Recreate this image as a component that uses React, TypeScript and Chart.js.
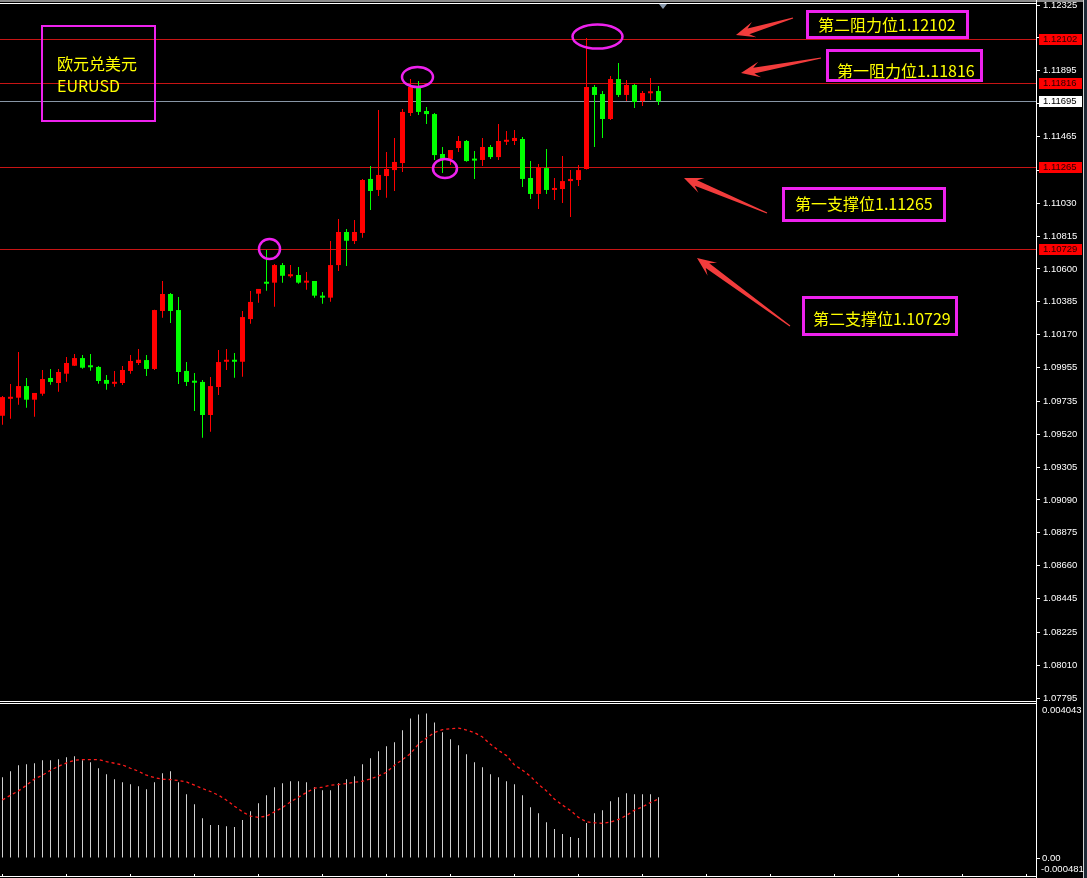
import React, { useEffect, useRef } from "react";
import { Chart, registerables } from "chart.js";

Chart.register(...registerables);

// ---------- data ----------
const candleOpen = [
  1.0964, 1.09751, 1.09758, 1.09834, 1.09745, 1.09784, 1.09887, 1.09854, 1.09915, 1.09967,
  1.10017, 1.09962, 1.09959, 1.09874, 1.09849, 1.09854, 1.09933, 1.09985, 1.10004, 1.09946,
  1.10325, 1.10436, 1.10331, 1.09933, 1.09867, 1.09861, 1.09645, 1.09828, 1.09993, 1.10004,
  1.09993, 1.10272, 1.10438, 1.10514, 1.1051, 1.10625, 1.10552, 1.1056, 1.1051, 1.10521,
  1.10423, 1.10412, 1.10625, 1.10841, 1.10782, 1.10835, 1.11188, 1.11116, 1.11207, 1.11246,
  1.11292, 1.11619, 1.11789, 1.11632, 1.11612, 1.11351, 1.11318, 1.1139, 1.11436, 1.11315,
  1.11312, 1.11397, 1.11331, 1.11431, 1.11436, 1.11449, 1.11194, 1.1109, 1.11259, 1.11116,
  1.11122, 1.11174, 1.11181, 1.11253, 1.11789, 1.11743, 1.1158, 1.11841, 1.11737, 1.11802,
  1.11697, 1.11748, 1.11763,
];
const candleHigh = [
  1.09769, 1.09847, 1.10057, 1.09887, 1.09789, 1.09939, 1.09946, 1.09946, 1.10024, 1.10044,
  1.10037, 1.10044, 1.09965, 1.09906, 1.09933, 1.09965, 1.10037, 1.10076, 1.10037, 1.10333,
  1.10521, 1.10442, 1.10416, 1.09991, 1.09919, 1.09874, 1.09893, 1.1007, 1.10076, 1.1005,
  1.10325, 1.10455, 1.10469, 1.10723, 1.10632, 1.10638, 1.10625, 1.10612, 1.1058, 1.10521,
  1.10449, 1.10782, 1.10926, 1.10861, 1.1092, 1.11188, 1.11273, 1.11639, 1.11364, 1.11456,
  1.11645, 1.11841, 1.11828, 1.11658, 1.11619, 1.11397, 1.11377, 1.11469, 1.11443, 1.11371,
  1.11456, 1.1141, 1.11547, 1.11501, 1.11508, 1.11462, 1.11305, 1.11286, 1.11384, 1.11194,
  1.11338, 1.11246, 1.11279, 1.12109, 1.11802, 1.11763, 1.11861, 1.11946, 1.11835, 1.11809,
  1.11763, 1.11848, 1.11796,
];
const candleLow = [
  1.09581, 1.09621, 1.09712, 1.09693, 1.09634, 1.09771, 1.09843, 1.09797, 1.09863, 1.09965,
  1.09948, 1.09934, 1.09849, 1.0981, 1.0983, 1.09841, 1.09915, 1.09972, 1.099, 1.09939,
  1.10281, 1.10246, 1.09847, 1.09834, 1.09671, 1.09496, 1.09536, 1.09776, 1.09939, 1.09889,
  1.09895, 1.10242, 1.10379, 1.10457, 1.10353, 1.1051, 1.10542, 1.10503, 1.10464, 1.10412,
  1.10372, 1.10386, 1.10586, 1.10619, 1.10763, 1.10804, 1.10985, 1.11076, 1.11065, 1.11109,
  1.11233, 1.11599, 1.11606, 1.11547, 1.11312, 1.11227, 1.11279, 1.11364, 1.113, 1.11188,
  1.11273, 1.11318, 1.11312, 1.1141, 1.1141, 1.11135, 1.11057, 1.10992, 1.1109, 1.1105,
  1.11031, 1.10939, 1.11142, 1.1125, 1.11397, 1.11456, 1.11573, 1.11724, 1.11697, 1.11652,
  1.11665, 1.11704, 1.11671,
];
const candleClose = [
  1.09762, 1.09762, 1.09834, 1.09745, 1.09789, 1.0988, 1.09861, 1.09926, 1.09985, 1.10017,
  1.09954, 1.09957, 1.09867, 1.09849, 1.09861, 1.09939, 1.09998, 1.10006, 1.09946, 1.10331,
  1.10436, 1.10325, 1.09926, 1.09861, 1.09856, 1.09645, 1.09834, 1.09991, 1.10004, 1.09993,
  1.10285, 1.10384, 1.10469, 1.10503, 1.10625, 1.10555, 1.1056, 1.1051, 1.10521, 1.10425,
  1.10412, 1.10625, 1.10841, 1.10784, 1.10841, 1.11181, 1.11109, 1.11214, 1.11253, 1.11299,
  1.11626, 1.11789, 1.11626, 1.11612, 1.11344, 1.11318, 1.11377, 1.11436, 1.11305, 1.11308,
  1.11397, 1.11331, 1.11436, 1.11443, 1.11456, 1.11188, 1.1109, 1.11266, 1.11116, 1.11129,
  1.11174, 1.11188, 1.11246, 1.11789, 1.11737, 1.1158, 1.11841, 1.11737, 1.11802, 1.11691,
  1.1175, 1.11756, 1.11695,
];
const macdHistogram = [
  0.002163, 0.002323, 0.002483, 0.00251, 0.002537, 0.002617, 0.002617, 0.002643, 0.002697, 0.002723,
  0.002617, 0.002563, 0.002403, 0.002243, 0.002109, 0.002029, 0.001976, 0.001922, 0.001842, 0.002029,
  0.00227, 0.002323, 0.002029, 0.001709, 0.001442, 0.001068, 0.000881, 0.000881, 0.000854, 0.000828,
  0.001015, 0.001255, 0.001469, 0.001682, 0.001896, 0.002003, 0.002056, 0.002056, 0.002029, 0.001896,
  0.001816, 0.001816, 0.002003, 0.002109, 0.002189, 0.00251, 0.00267, 0.002857, 0.00299, 0.003097,
  0.003418, 0.003738, 0.003845, 0.003872, 0.003631, 0.003364, 0.003177, 0.003017, 0.002777, 0.002563,
  0.00243, 0.002243, 0.002163, 0.002056, 0.001976, 0.001682, 0.001362, 0.001202, 0.000961, 0.000774,
  0.000641, 0.000561, 0.000534, 0.000935, 0.001202, 0.001282, 0.001522, 0.001629, 0.001736, 0.001709,
  0.001709, 0.001709, 0.001629,
];
const macdSignal = [
  0.001557, 0.001682, 0.001797, 0.001949, 0.002117, 0.002216, 0.00235, 0.002456, 0.002545, 0.002617,
  0.002635, 0.002635, 0.002635, 0.002582, 0.002537, 0.002491, 0.002403, 0.002323, 0.002216, 0.002155,
  0.002109, 0.002101, 0.002075, 0.002037, 0.001949, 0.001861, 0.001781, 0.001682, 0.001549, 0.001388,
  0.001236, 0.001121, 0.001087, 0.001121, 0.001236, 0.001354, 0.001503, 0.001629, 0.001754, 0.001869,
  0.001896, 0.001949, 0.001968, 0.001994, 0.002029, 0.002056, 0.002117, 0.002197, 0.002296, 0.002483,
  0.002635, 0.002795, 0.003052, 0.003212, 0.003364, 0.003436, 0.003463, 0.003479, 0.003426, 0.003356,
  0.003239, 0.003044, 0.002884, 0.002742, 0.002491, 0.00235, 0.002189, 0.001968, 0.001797, 0.001575,
  0.001415, 0.001274, 0.001087, 0.000969, 0.000943, 0.000926, 0.000961, 0.001033, 0.00114, 0.001282,
  0.00137, 0.001487, 0.001583,
];
const priceTicks = [
  1.12325, 1.1211, 1.11895, 1.1168, 1.11465, 1.11245, 1.1103, 1.10815, 1.106, 1.10385, 1.1017,
  1.09955, 1.09735, 1.0952, 1.09305, 1.0909, 1.08875, 1.0866, 1.08445, 1.08225, 1.0801, 1.07795,
];
const levelNames = ["第二阻力位", "第一阻力位", "第一支撑位", "第二支撑位"];
const levelPrices = [1.12102, 1.11816, 1.11265, 1.10729];
const currentPrice = 1.11695;
const symbolLines = ["欧元兑美元", "EURUSD"];
const subAxisMax = 0.004043;
const subAxisMin = -0.000481;

// ---------- layout / styling ----------
const W = 1087;
const MAIN_H = 702;
const SUB_H = 176;
const AXIS_X = 1036;
const X_MIN = -0.3125;
const X_MAX = 129.1875;
const PRICE_MAX = 1.123381;
const PRICE_MIN = 1.077754;
const UP = "#ff0000";
const DOWN = "#00ff00";
const MAGENTA = "#ee22ee";
const AXIS_FAMILY = '"Liberation Sans", Arial, sans-serif';
const AXIS_SIZE = 9.5;
const AXIS_FONT = `${AXIS_SIZE}px ${AXIS_FAMILY}`;

const ellipseMarks = [
  { index: 74.375, price: 1.12119, rx: 25, ry: 12 },
  { index: 51.875, price: 1.11854, rx: 15.5, ry: 10 },
  { index: 55.31, price: 1.11256, rx: 12, ry: 9.5 },
  { index: 33.375, price: 1.1073, rx: 10.5, ry: 10 },
];
const arrowMarks = [
  { tail: [793, 18], tip: [736, 35] },
  { tail: [821, 58], tip: [741, 73] },
  { tail: [767, 213], tip: [684, 178] },
  { tail: [790, 326], tip: [697, 258] },
];
const calloutLayout = [
  { left: 806, top: 10, width: 163, height: 29, textLeft: 818, textCenter: 24 },
  { left: 826, top: 49, width: 157, height: 33, textLeft: 837, textCenter: 69.5 },
  { left: 782, top: 187, width: 164, height: 35, textLeft: 795, textCenter: 202.5 },
  { left: 802, top: 296, width: 156, height: 40, textLeft: 813, textCenter: 317.5 },
];

function drawArrow(ctx: any, tx: number, ty: number, px: number, py: number) {
  const dx = px - tx;
  const dy = py - ty;
  const len = Math.hypot(dx, dy);
  const ux = dx / len;
  const uy = dy / len;
  const nx = -uy;
  const ny = ux;
  const neck = 13;
  const barb = 19;
  const headHalf = 8;
  const neckHalf = 3;
  const tailHalf = 0.6;
  const bx = px - ux * neck;
  const by = py - uy * neck;
  const wx = px - ux * barb;
  const wy = py - uy * barb;
  ctx.beginPath();
  ctx.moveTo(tx + nx * tailHalf, ty + ny * tailHalf);
  ctx.lineTo(bx + nx * neckHalf, by + ny * neckHalf);
  ctx.lineTo(wx + nx * headHalf, wy + ny * headHalf);
  ctx.lineTo(px, py);
  ctx.lineTo(wx - nx * headHalf, wy - ny * headHalf);
  ctx.lineTo(bx - nx * neckHalf, by - ny * neckHalf);
  ctx.lineTo(tx - nx * tailHalf, ty - ny * tailHalf);
  ctx.closePath();
  ctx.fill();
}

function axisTag(ctx: any, y: number, text: string, bg: string, fg: string) {
  const cy = Math.round(y);
  ctx.fillStyle = bg;
  ctx.fillRect(AXIS_X + 3, cy - 5, 43, 11);
  ctx.fillStyle = fg;
  ctx.font = AXIS_FONT;
  ctx.textAlign = "left";
  ctx.textBaseline = "middle";
  ctx.fillText(text, AXIS_X + 7, cy + 0.5);
}

const mainDecor = {
  id: "mainDecor",
  beforeDatasetsDraw(chart: any) {
    const { ctx, chartArea: a, scales } = chart;
    const ys = scales.y;
    ctx.save();
    ctx.lineWidth = 1;
    ctx.strokeStyle = "#c81414";
    levelPrices.forEach((p) => {
      const py = Math.round(ys.getPixelForValue(p)) + 0.5;
      ctx.beginPath();
      ctx.moveTo(a.left, py);
      ctx.lineTo(a.right, py);
      ctx.stroke();
    });
    ctx.strokeStyle = "#8896a6";
    const cpy = Math.round(ys.getPixelForValue(currentPrice)) + 0.5;
    ctx.beginPath();
    ctx.moveTo(a.left, cpy);
    ctx.lineTo(a.right, cpy);
    ctx.stroke();
    ctx.restore();
  },
  afterDraw(chart: any) {
    const { ctx, scales } = chart;
    const xs = scales.x;
    const ys = scales.y;
    ctx.save();
    // frame
    ctx.fillStyle = "#8a8a8a";
    ctx.fillRect(0, 0, 1083, 2);
    ctx.fillStyle = "#ffffff";
    ctx.fillRect(0, 3, AXIS_X, 1);
    ctx.fillRect(0, MAIN_H - 1, AXIS_X, 1);
    ctx.fillRect(AXIS_X, 0, 1, MAIN_H);
    ctx.fillStyle = "#cfcfcf";
    ctx.fillRect(1083, 0, 1, MAIN_H);
    ctx.fillStyle = "#1d2a36";
    ctx.fillRect(1084, 0, 3, MAIN_H);
    // chart shift marker
    ctx.fillStyle = "#8c9cb0";
    ctx.beginPath();
    ctx.moveTo(659, 4);
    ctx.lineTo(667, 4);
    ctx.lineTo(663, 9);
    ctx.closePath();
    ctx.fill();
    // ellipses
    ctx.strokeStyle = MAGENTA;
    ctx.lineWidth = 2.5;
    ellipseMarks.forEach((e) => {
      ctx.beginPath();
      ctx.ellipse(xs.getPixelForValue(e.index), ys.getPixelForValue(e.price), e.rx, e.ry, 0, 0, Math.PI * 2);
      ctx.stroke();
    });
    // arrows
    ctx.fillStyle = "#f23c3c";
    arrowMarks.forEach((m) => drawArrow(ctx, m.tail[0], m.tail[1], m.tip[0], m.tip[1]));
    // axis tags
    levelPrices.forEach((p) => axisTag(ctx, ys.getPixelForValue(p), p.toFixed(5), "#ff0000", "#2a0000"));
    axisTag(ctx, ys.getPixelForValue(currentPrice), currentPrice.toFixed(5), "#ffffff", "#000000");
    ctx.restore();
  },
};

const subDecor = {
  id: "subDecor",
  afterDraw(chart: any) {
    const { ctx, scales } = chart;
    const xs = scales.x;
    ctx.save();
    ctx.fillStyle = "#ffffff";
    ctx.fillRect(0, 1, AXIS_X, 1);
    ctx.fillRect(0, 174, AXIS_X, 1);
    ctx.fillRect(AXIS_X, 0, 1, SUB_H);
    for (let k = 0; ; k += 8) {
      const px = Math.floor(xs.getPixelForValue(k));
      if (px >= AXIS_X) break;
      ctx.fillRect(px, 172, 1, 2);
    }
    ctx.fillStyle = "#cfcfcf";
    ctx.fillRect(1083, 0, 1, SUB_H);
    ctx.fillStyle = "#1d2a36";
    ctx.fillRect(1084, 0, 3, SUB_H);
    ctx.fillStyle = "#ffffff";
    ctx.font = AXIS_FONT;
    ctx.textAlign = "left";
    ctx.textBaseline = "middle";
    ctx.fillText(subAxisMax.toFixed(6), AXIS_X + 6, 8);
    ctx.fillText(subAxisMin.toFixed(6), AXIS_X + 5, 167);
    ctx.restore();
  },
};

export default function App() {
  const mainRef = useRef<HTMLCanvasElement>(null);
  const subRef = useRef<HTMLCanvasElement>(null);

  useEffect(() => {
    const candleColors = candleOpen.map((o, i) => (candleClose[i] >= o ? UP : DOWN));
    const main = new Chart(mainRef.current as HTMLCanvasElement, {
      type: "bar",
      data: {
        datasets: [
          {
            label: "body",
            data: candleOpen.map((o, i) => ({ x: i, y: [Math.min(o, candleClose[i]), Math.max(o, candleClose[i])] })) as any,
            backgroundColor: candleColors,
            barThickness: 5,
            minBarLength: 2,
            grouped: false,
            inflateAmount: 0,
            borderWidth: 0,
            order: 0,
          } as any,
          {
            label: "wick",
            data: candleLow.map((l, i) => ({ x: i, y: [l, candleHigh[i]] })) as any,
            backgroundColor: candleColors,
            barThickness: 1,
            minBarLength: 1,
            grouped: false,
            inflateAmount: 0,
            borderWidth: 0,
            order: 1,
          } as any,
        ],
      },
      options: {
        responsive: false,
        animation: false,
        devicePixelRatio: 1,
        events: [],
        layout: { padding: { top: 3, bottom: 1, left: 0, right: 0 } },
        plugins: { legend: { display: false }, tooltip: { enabled: false }, title: { display: false } },
        scales: {
          x: { type: "linear", min: X_MIN, max: X_MAX, display: false, offset: false },
          y: {
            type: "linear",
            position: "right",
            min: PRICE_MIN,
            max: PRICE_MAX,
            afterBuildTicks: (s: any) => {
              s.ticks = priceTicks.map((v) => ({ value: v }));
            },
            afterFit: (s: any) => {
              s.width = W - AXIS_X;
              s.paddingTop = 0;
              s.paddingBottom = 0;
            },
            ticks: {
              color: "#ffffff",
              font: { family: AXIS_FAMILY, size: AXIS_SIZE },
              padding: 3,
              autoSkip: false,
              callback: (v: any) => Number(v).toFixed(5),
            },
            grid: { drawOnChartArea: false, drawTicks: true, tickLength: 4, color: "#ffffff" },
            border: { display: true, color: "#ffffff" },
          },
        },
      } as any,
      plugins: [mainDecor],
    });

    const sub = new Chart(subRef.current as HTMLCanvasElement, {
      type: "bar",
      data: {
        datasets: [
          {
            type: "line",
            label: "signal",
            data: macdSignal.map((v, i) => ({ x: i, y: v })) as any,
            borderColor: "#ff1a1a",
            borderWidth: 1.3,
            borderDash: [3, 3],
            pointRadius: 0,
            fill: false,
            tension: 0,
            order: 0,
          } as any,
          {
            type: "bar",
            label: "macd",
            data: macdHistogram.map((v, i) => ({ x: i, y: v })) as any,
            backgroundColor: "#d0d0d0",
            barThickness: 1,
            grouped: false,
            inflateAmount: 0,
            borderWidth: 0,
            order: 1,
          } as any,
        ],
      },
      options: {
        responsive: false,
        animation: false,
        devicePixelRatio: 1,
        events: [],
        layout: { padding: { top: 5, bottom: 2, left: 0, right: 0 } },
        plugins: { legend: { display: false }, tooltip: { enabled: false }, title: { display: false } },
        scales: {
          x: { type: "linear", min: X_MIN, max: X_MAX, display: false, offset: false },
          y: {
            type: "linear",
            position: "right",
            min: subAxisMin,
            max: subAxisMax,
            afterBuildTicks: (s: any) => {
              s.ticks = [{ value: 0 }];
            },
            afterFit: (s: any) => {
              s.width = W - AXIS_X;
              s.paddingTop = 0;
              s.paddingBottom = 0;
            },
            ticks: {
              color: "#ffffff",
              font: { family: AXIS_FAMILY, size: AXIS_SIZE },
              padding: 2,
              autoSkip: false,
              callback: (v: any) => Number(v).toFixed(2),
            },
            grid: { drawOnChartArea: false, drawTicks: true, tickLength: 4, color: "#ffffff" },
            border: { display: true, color: "#ffffff" },
          },
        },
      } as any,
      plugins: [subDecor],
    });

    return () => {
      main.destroy();
      sub.destroy();
    };
  }, []);

  const textStyle = {
    position: "absolute" as const,
    color: "#ffff00",
    fontFamily: '"Noto Sans CJK SC", sans-serif',
    fontSize: 16,
    lineHeight: "16px",
    whiteSpace: "nowrap" as const,
  };

  return (
    <div style={{ position: "fixed", left: 0, top: 0, width: W, height: 878, background: "#000", overflow: "hidden" }}>
      <canvas ref={mainRef} width={W} height={MAIN_H} style={{ position: "absolute", left: 0, top: 0 }} />
      <canvas ref={subRef} width={W} height={SUB_H} style={{ position: "absolute", left: 0, top: MAIN_H }} />
      <div
        style={{
          position: "absolute",
          left: 41,
          top: 25,
          width: 115,
          height: 97,
          border: `2px solid ${MAGENTA}`,
          boxSizing: "border-box",
        }}
      />
      <div style={{ ...textStyle, left: 57, top: 55 }}>{symbolLines[0]}</div>
      <div style={{ ...textStyle, left: 57, top: 77 }}>{symbolLines[1]}</div>
      {calloutLayout.map((b, i) => (
        <React.Fragment key={i}>
          <div
            style={{
              position: "absolute",
              left: b.left,
              top: b.top,
              width: b.width,
              height: b.height,
              border: `3px solid ${MAGENTA}`,
              boxSizing: "border-box",
            }}
          />
          <div style={{ ...textStyle, left: b.textLeft, top: b.textCenter - 8 }}>
            {levelNames[i] + levelPrices[i].toFixed(5)}
          </div>
        </React.Fragment>
      ))}
    </div>
  );
}
